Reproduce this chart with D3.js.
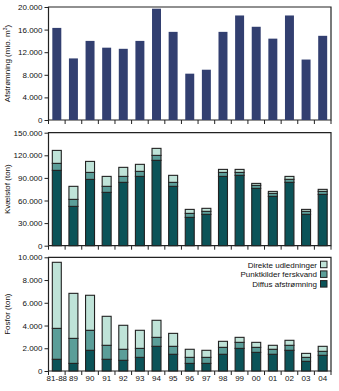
<!DOCTYPE html>
<html>
<head>
<meta charset="utf-8">
<script src="https://cdn.jsdelivr.net/npm/d3@7"></script>
<style>
body{margin:0;background:#fff;}
text{font-family:"Liberation Sans",Arial,sans-serif;fill:#111;}
</style>
</head>
<body>
<div id="plot"></div>
<script>

var years = ['81-88','89','90','91','92','93','94','95','96','97','98','99','00','01','02','03','04'];

// afstroemning, mio m3
var water = [16300,10900,14000,12800,12600,14000,19700,15600,8200,8900,15600,18500,16500,14400,18500,10700,14900];

// kvaelstof, ton
var nDiffus = [100000,52200,88000,70800,84100,92000,113300,78800,37600,41600,92000,93400,76100,65500,84100,41600,68100];
var nPunkt  = [9300,9300,9300,8000,7900,6700,6600,5300,5300,4000,5300,3900,4000,4000,4000,4000,4000];
var nDirekte= [17200,17300,14600,13200,12000,9300,9300,9300,5300,4000,4000,4000,2600,2600,3900,2600,2700];

// fosfor, ton
var pDiffus = [1030,670,1820,1030,940,1200,2170,1470,670,670,1470,1990,1640,1470,1820,850,1380];
var pPunkt  = [2720,2200,1760,1230,970,790,790,700,530,530,610,530,440,440,440,350,350];
var pDirekte= [5810,3960,3080,2550,2110,1590,1500,1140,710,620,530,440,440,350,440,350,440];

var legendNames = ['Direkte udledninger','Punktkilder ferskvand','Diffus afstrømning'];
var keys = ['diffus','punkt','direkte'];
var colors = {diffus:'#0b5358', punkt:'#5b9e99', direkte:'#bfe3d8'};

var fmt = function(d){ return d3.format(',')(d).replace(/,/g,'.'); };

var svg = d3.select('#plot').append('svg')
	.attr('width',339)
	.attr('height',391);

var left = 48.5, right = 331;

var x = d3.scaleBand()
	.domain(years)
	.range([left,right])
	.paddingInner(0.46)
	.paddingOuter(0.23);

function panel(top,bottom,max,step,label){
	var y = d3.scaleLinear().domain([0,max]).range([bottom,top]);
	var g = svg.append('g');

	g.append('g')
		.attr('transform','translate('+left+',0)')
		.call(d3.axisLeft(y).tickValues(d3.range(0,max+1,step)).tickSize(4).tickFormat(fmt))
		.call(function(a){
			a.select('.domain').remove();
			a.selectAll('line').attr('stroke','#222');
			a.selectAll('text').style('font-size','8px').attr('x',-6);
		});

	// frame
	g.append('path')
		.attr('d','M'+left+','+bottom+'V'+top+'H'+right+'V'+bottom+'H'+left)
		.attr('fill','none').attr('stroke','#222').attr('stroke-width',1.2);

	// x ticks at band edges
	var edges = years.map(function(d){ return x(d) - x.step()*x.paddingInner()/2; });
	edges.push(right);
	g.selectAll('.xt').data(edges).enter().append('line')
		.attr('x1',function(d){return d;}).attr('x2',function(d){return d;})
		.attr('y1',bottom).attr('y2',bottom+4)
		.attr('stroke','#222');

	g.append('text')
		.attr('transform','translate(10,'+((top+bottom)/2)+') rotate(-90)')
		.attr('text-anchor','middle')
		.style('font-size','8px')
		.text(label);

	return y;
}

// panel 1
var y1 = panel(7,120,20000,4000,'');
svg.append('text')
	.attr('transform','translate(10,63.5) rotate(-90)')
	.attr('text-anchor','middle')
	.style('font-size','8px')
	.html('Afstrømning (mio. m<tspan dy="-3" style="font-size:5px">3</tspan><tspan dy="3">)</tspan>');

svg.selectAll('.wbar').data(water).enter().append('rect')
	.attr('x',function(d,i){return x(years[i]);})
	.attr('width',x.bandwidth())
	.attr('y',function(d){return y1(d);})
	.attr('height',function(d){return y1(0)-y1(d);})
	.attr('fill','#323f70');

function stacked(y,dif,pun,dir){
	var rows = years.map(function(yr,i){
		return {year:yr, diffus:dif[i], punkt:pun[i], direkte:dir[i]};
	});
	var series = d3.stack().keys(keys)(rows);
	svg.append('g').selectAll('g').data(series).enter().append('g')
		.attr('fill',function(s){return colors[s.key];})
		.selectAll('rect').data(function(s){return s;}).enter().append('rect')
		.attr('x',function(d){return x(d.data.year);})
		.attr('width',x.bandwidth())
		.attr('y',function(d){return y(d[1]);})
		.attr('height',function(d){return y(d[0])-y(d[1]);})
		.attr('stroke','#222')
		.attr('stroke-width',1.1);
}

// panel 2
var y2 = panel(132.7,245.7,150000,30000,'Kvælstof (ton)');
stacked(y2,nDiffus,nPunkt,nDirekte);

// panel 3
var y3 = panel(257.3,371,10000,2000,'Fosfor (ton)');
stacked(y3,pDiffus,pPunkt,pDirekte);

svg.selectAll('.xl').data(years).enter().append('text')
	.attr('x',function(d){return x(d)+x.bandwidth()/2;})
	.attr('y',381)
	.attr('text-anchor','middle')
	.style('font-size','8px')
	.text(function(d){return d;});

// legend
var leg = svg.append('g').selectAll('g').data(legendNames).enter().append('g')
	.attr('transform',function(d,i){return 'translate(0,'+(264.7+i*9.7)+')';});
leg.append('rect')
	.attr('x',320.5).attr('y',-3.5).attr('width',6.5).attr('height',6.5)
	.attr('fill',function(d,i){return colors[keys[2-i]];})
	.attr('stroke','#222').attr('stroke-width',1);
leg.append('text')
	.attr('x',317).attr('y',3)
	.attr('text-anchor','end')
	.style('font-size','8px')
	.text(function(d){return d;});

</script>
</body>
</html>
